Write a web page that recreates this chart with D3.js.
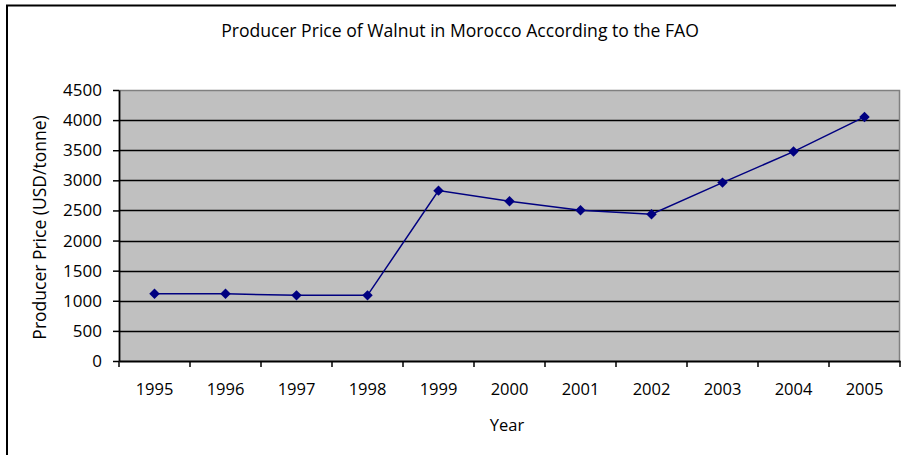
<!DOCTYPE html>
<html>
<head>
<meta charset="utf-8">
<script src="https://cdn.jsdelivr.net/npm/d3@7"></script>
<style>
  body { margin: 0; background: #fff; }
  svg { display: block; font-family: "Open Sans", sans-serif; }
</style>
</head>
<body>
<svg id="chart" width="904" height="455"></svg>
<script>
// Data
const years = ['1995', '1996', '1997', '1998', '1999', '2000', '2001', '2002', '2003', '2004', '2005'];
const prices = [1117, 1117, 1090, 1090, 2829, 2653, 2503, 2437, 2962, 3477, 4053];
const yTicks = [0, 500, 1000, 1500, 2000, 2500, 3000, 3500, 4000, 4500];

const svg = d3.select('#chart');
const width = 904;
const height = 455;
const margin = { top: 90, right: 4, bottom: 94, left: 119 };
const font = '"Open Sans", sans-serif';

// Outer frame (only top and left edges are visible)
svg.append('path')
  .attr('d', 'M7,460 L7,5.5 L896,5.5')
  .attr('fill', 'none')
  .attr('stroke', '#000')
  .attr('stroke-width', 2);

const x = d3.scaleBand()
  .domain(years)
  .range([margin.left, width - margin.right])
  .padding(0);

const y = d3.scaleLinear()
  .domain([0, 4500])
  .range([height - margin.bottom, margin.top]);

// Plot area
svg.append('rect')
  .attr('x', margin.left)
  .attr('y', margin.top)
  .attr('width', width - margin.right - margin.left)
  .attr('height', y(0) - margin.top)
  .attr('fill', '#c0c0c0');

// Gridlines
svg.append('g')
  .selectAll('line')
  .data(yTicks.filter(d => d > 0 && d < 4500))
  .join('line')
  .attr('x1', margin.left)
  .attr('x2', width - margin.right)
  .attr('y1', d => Math.round(y(d)) + 0.5)
  .attr('y2', d => Math.round(y(d)) + 0.5)
  .attr('stroke', '#000')
  .attr('stroke-width', 1.3);

// Plot border top/right (gray)
svg.append('path')
  .attr('d', `M${margin.left},${margin.top + 0.5} L${width - margin.right - 0.5},${margin.top + 0.5} L${width - margin.right - 0.5},${y(0)}`)
  .attr('fill', 'none')
  .attr('stroke', '#808080')
  .attr('stroke-width', 1.5);

// Y axis
const yAxis = svg.append('g')
  .attr('transform', `translate(${margin.left},0)`)
  .call(d3.axisLeft(y).tickValues(yTicks).tickFormat(d3.format('d')).tickSize(6).tickPadding(11).tickSizeOuter(0));
yAxis.attr('font-family', font);
yAxis.selectAll('text').style('font-size', '17px').attr('fill', '#000');
yAxis.selectAll('line').attr('stroke', '#000').attr('stroke-width', 1.5);
yAxis.select('.domain').attr('stroke', '#000').attr('stroke-width', 1.8);

// X axis: labels at band centres, ticks at band boundaries
const xAxis = svg.append('g')
  .attr('transform', `translate(0,${y(0)})`)
  .call(d3.axisBottom(x).tickSize(0).tickPadding(22).tickSizeOuter(0));
xAxis.attr('font-family', font);
xAxis.selectAll('text').style('font-size', '16.5px').attr('fill', '#000');
xAxis.select('.domain').attr('stroke', '#000').attr('stroke-width', 1.8);

const boundaries = years.map(d => x(d)).concat([x.range()[1]]);
xAxis.append('g')
  .selectAll('line')
  .data(boundaries)
  .join('line')
  .attr('x1', d => Math.round(d))
  .attr('x2', d => Math.round(d))
  .attr('y1', 0)
  .attr('y2', 6)
  .attr('stroke', '#000')
  .attr('stroke-width', 1.5);

// Line
const line = d3.line()
  .x((d, i) => x(years[i]) + x.bandwidth() / 2)
  .y(d => y(d));

svg.append('path')
  .datum(prices)
  .attr('fill', 'none')
  .attr('stroke', '#000080')
  .attr('stroke-width', 1.5)
  .attr('d', line);

// Diamond markers
svg.append('g')
  .selectAll('path')
  .data(prices)
  .join('path')
  .attr('transform', (d, i) => `translate(${x(years[i]) + x.bandwidth() / 2},${y(d)}) rotate(45)`)
  .attr('d', 'M-3.7,-3.7 L3.7,-3.7 L3.7,3.7 L-3.7,3.7 Z')
  .attr('fill', '#000080');

// Titles
svg.append('text')
  .attr('x', 460)
  .attr('y', 37)
  .attr('text-anchor', 'middle')
  .style('font-size', '17.6px')
  .text('Producer Price of Walnut in Morocco According to the FAO');

svg.append('text')
  .attr('transform', `translate(46,${(margin.top + y(0)) / 2 + 2}) rotate(-90)`)
  .attr('text-anchor', 'middle')
  .style('font-size', '17.5px')
  .text('Producer Price (USD/tonne)');

svg.append('text')
  .attr('x', 507)
  .attr('y', 431)
  .attr('text-anchor', 'middle')
  .style('font-size', '16.5px')
  .text('Year');
</script>
</body>
</html>
